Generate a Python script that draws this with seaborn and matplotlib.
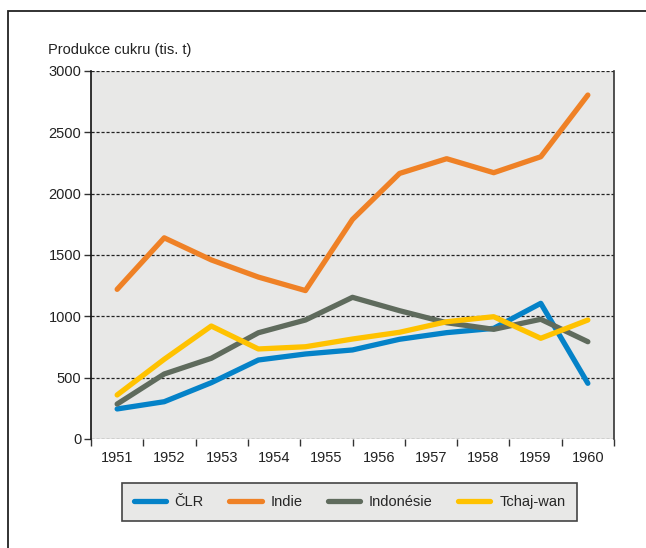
import pandas as pd
from matplotlib import pyplot as plt
from matplotlib.patches import Rectangle
import seaborn as sns
import numpy as np

years = ['1951', '1952', '1953', '1954', '1955',
         '1956', '1957', '1958', '1959', '1960']
# 11 measured points spread evenly across the 10 year slots
step = ['p0', 'p1', 'p2', 'p3', 'p4', 'p5', 'p6', 'p7', 'p8', 'p9', 'p10']
clr = [245, 304, 459, 644, 693, 726, 813, 867, 902, 1106, 454]
indie = [1220, 1640, 1460, 1320, 1210, 1790, 2165, 2285, 2171, 2301, 2804]
indonesie = [285, 530, 658, 866, 970, 1155, 1046, 948, 894, 976, 793]
tchajwan = [359, 650, 921, 734, 752, 815, 870, 956, 997, 821, 970]

series = ['ČLR', 'Indie', 'Indonésie', 'Tchaj-wan']
colors = ['#0482c8', '#ef8126', '#5f6b5d', '#ffc200']

pos = np.linspace(0, len(years) - 1, len(step))
df = pd.DataFrame({
    'x': np.tile(pos, 4),
    'value': clr + indie + indonesie + tchajwan,
    'zeme': np.repeat(series, len(step)),
})

sns.set_style('white')
plt.rcParams['font.family'] = ['Liberation Sans', 'DejaVu Sans']
plt.rcParams['font.size'] = 10.5

fig = plt.figure(figsize=(6.46, 5.48), dpi=100)
ax = fig.add_axes([91 / 646, 1 - 439 / 548, 523 / 646, 368 / 548])
ax.set_facecolor('#e8e8e7')

sns.lineplot(data=df, x='x', y='value', hue='zeme', hue_order=series,
             palette=colors, linewidth=3.8, ax=ax, legend=False,
             zorder=3)

ax.set_xlim(-0.5, 9.5)
ax.set_ylim(0, 3000)
ax.set_yticks(np.arange(0, 3001, 500))
ax.set_xticks(range(len(years)))
ax.set_xticklabels(years)
ax.set_xticks(np.arange(-0.5, 10, 1), minor=True)
ax.tick_params(axis='x', which='major', length=0, pad=9, labelsize=10.5,
               colors='#222222')
ax.tick_params(axis='x', which='minor', length=5, width=1, color='#333333',
               direction='out', bottom=True)
ax.tick_params(axis='y', length=5, width=1, color='#333333', pad=2,
               labelsize=10.5, colors='#222222', left=True)
ax.set_xlabel('')
ax.set_ylabel('')
ax.grid(axis='y', color='#222222', linestyle=(0, (2.5, 1.5)), linewidth=0.9,
        zorder=1)
ax.grid(axis='x', visible=False)
ax.set_axisbelow(True)
for side in ['top', 'bottom']:
    ax.spines[side].set_visible(False)
ax.spines['left'].set_color('#111111')
ax.spines['right'].set_color('#333333')
ax.spines['left'].set_linewidth(1.2)
ax.spines['right'].set_linewidth(1.2)

fig.text(48 / 646, 1 - 50 / 548, 'Produkce cukru (tis. t)', fontsize=10.5,
         ha='left', va='center', color='#222222')

handles = [plt.Line2D([], [], color=c, linewidth=3.8) for c in colors]
leg = fig.legend(handles, series, ncol=4, loc='center', mode='expand',
                 bbox_to_anchor=(122 / 646, 1 - 521 / 548, 455 / 646, 38 / 548),
                 frameon=True, fancybox=False, framealpha=1,
                 facecolor='#e8e8e7', edgecolor='#444444',
                 handlelength=2.2, handletextpad=0.6, columnspacing=1.4,
                 borderpad=0.8, borderaxespad=0, fontsize=10.5)
leg.get_frame().set_linewidth(1.2)

# outer frame (left and top edges visible)
fig.patches.append(Rectangle((7.5 / 646, -0.1), 1.2, 0.1 + 1 - 11 / 548,
                             transform=fig.transFigure, fill=False,
                             edgecolor='#222222', linewidth=1.3))

fig.savefig('out.png', dpi=100)
